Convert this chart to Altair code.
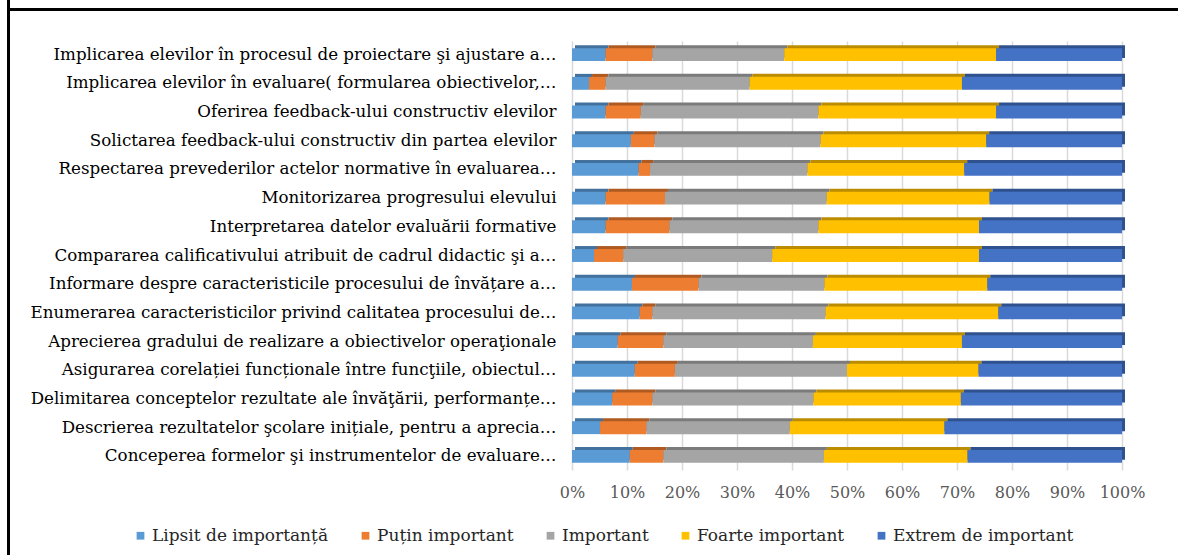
import altair as alt
import pandas as pd

# Survey items (top to bottom) and answer levels
items = [
    "Implicarea elevilor  în procesul de proiectare şi ajustare a…",
    "Implicarea elevilor în evaluare( formularea obiectivelor,…",
    "Oferirea feedback-ului constructiv elevilor",
    "Solictarea feedback-ului constructiv din partea elevilor",
    "Respectarea prevederilor actelor normative în evaluarea…",
    "Monitorizarea progresului elevului",
    "Interpretarea datelor evaluării formative",
    "Compararea calificativului  atribuit  de cadrul didactic şi a…",
    "Informare despre caracteristicile procesului de  învățare a…",
    "Enumerarea  caracteristicilor  privind  calitatea  procesului de…",
    "Aprecierea gradului de realizare a obiectivelor operaţionale",
    "Asigurarea  corelației  funcționale  între funcţiile,  obiectul…",
    "Delimitarea  conceptelor rezultate  ale învăţării,  performanțe…",
    "Descrierea rezultatelor  şcolare inițiale,  pentru a aprecia…",
    "Conceperea formelor şi instrumentelor  de evaluare…",
]

levels = [
    "Lipsit de importanță",
    "Puțin important",
    "Important",
    "Foarte important",
    "Extrem de important",
]

# Share of answers (%) per level, one list per level, in item order
lipsit = [6.1, 3.1, 6.1, 10.7, 12.1, 6.1, 6.1, 4.0, 10.9, 12.3, 8.3, 11.4, 7.3, 5.1, 10.5]
putin = [8.5, 3.0, 6.4, 4.3, 2.1, 10.8, 11.6, 5.3, 12.1, 2.3, 8.3, 7.3, 7.3, 8.4, 6.1]
important = [24.0, 26.2, 32.3, 30.2, 28.6, 29.4, 27.1, 27.1, 22.9, 31.5, 27.2, 31.3, 29.3, 26.1, 29.2]
foarte = [38.5, 38.6, 32.3, 30.1, 28.5, 29.6, 29.2, 37.6, 29.6, 31.4, 27.1, 23.9, 26.8, 28.1, 26.1]
extrem = [22.9, 29.1, 22.9, 24.7, 28.7, 24.1, 26.0, 26.0, 24.5, 22.5, 29.1, 26.1, 29.3, 32.3, 28.1]

colors = ["#5B9BD5", "#ED7D31", "#A5A5A5", "#FFC000", "#4472C4"]
shade = ["#41719C", "#AE5A21", "#7B7B7B", "#BC8C00", "#2F528F"]

series = [lipsit, putin, important, foarte, extrem]
rows = []
for k, (lvl, vals) in enumerate(zip(levels, series)):
    for item, v in zip(items, vals):
        rows.append({"item": item, "level": lvl, "order": k, "value": v})
df = pd.DataFrame(rows)

FONT = "DejaVu Serif"
W, H = 550, 429

y_enc = alt.Y(
    "item:N",
    sort=items,
    scale=alt.Scale(paddingInner=0.55, paddingOuter=0.25),
    axis=alt.Axis(
        title=None,
        labelFont=FONT,
        labelFontSize=16.7,
        labelColor="#000000",
        labelLimit=600,
        labelPadding=16,
        ticks=False,
        domain=False,
    ),
)

x_enc = alt.X(
    "value:Q",
    stack="normalize",
    scale=alt.Scale(domain=[0, 1], nice=False),
    axis=alt.Axis(
        title=None,
        format="%",
        values=[i / 10 for i in range(11)],
        labelFont=FONT,
        labelFontSize=16,
        labelColor="#595959",
        labelPadding=14,
        labelOverlap=False,
        labelFlush=False,
        ticks=False,
        domain=False,
        grid=True,
        gridColor="#D9D9D9",
        gridWidth=1.5,
    ),
)

base = alt.Chart(df)

# darker copy behind each segment gives the bars a shallow 3-D edge
edge = base.mark_bar(xOffset=3, yOffset=-3).encode(
    x=x_enc,
    y=y_enc,
    color=alt.Color("level:N", sort=levels, scale=alt.Scale(domain=levels, range=shade), legend=None),
    order=alt.Order("order:Q"),
)

bars = base.mark_bar().encode(
    x=x_enc,
    y=y_enc,
    color=alt.Color(
        "level:N",
        sort=levels,
        scale=alt.Scale(domain=levels, range=colors),
        legend=alt.Legend(
            title=None,
            orient="none",
            direction="horizontal",
            legendX=-440,
            legendY=486,
            symbolType="square",
            symbolSize=60,
            symbolStrokeWidth=0,
            labelFont=FONT,
            labelFontSize=17,
            labelLimit=400,
            labelColor="#262626",
            columnPadding=28,
            labelOffset=3,
            padding=0,
        ),
    ),
    order=alt.Order("order:Q"),
)

# black frame along the left and top edges of the figure
frame_df = pd.DataFrame({"f": [0]})
left_line = alt.Chart(frame_df).mark_rule(color="#000000", strokeWidth=3).encode(
    x=alt.value(-563.5), y=alt.value(-41), y2=alt.value(514)
)
top_line = alt.Chart(frame_df).mark_rule(color="#000000", strokeWidth=3).encode(
    x=alt.value(-565), x2=alt.value(606), y=alt.value(-31.5)
)

chart = (
    alt.layer(edge, bars, left_line, top_line)
    .resolve_scale(color="independent")
    .properties(
        width=W,
        height=H,
        autosize=alt.AutoSizeParams(type="none"),
        padding={"left": 572, "top": 41, "right": 56, "bottom": 85},
        background="#FFFFFF",
    )
    .configure_view(stroke=None)
)

chart.save("out.html", embed_options={"renderer": "svg", "actions": False})
